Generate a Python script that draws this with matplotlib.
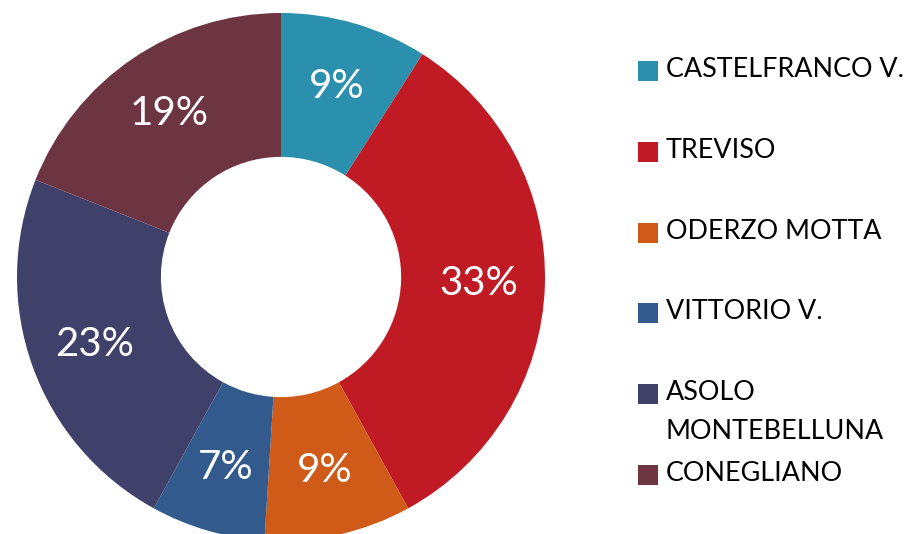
import matplotlib.pyplot as plt
from matplotlib.patches import Rectangle

labels = ["CASTELFRANCO V.", "TREVISO", "ODERZO MOTTA", "VITTORIO V.",
          "ASOLO\nMONTEBELLUNA", "CONEGLIANO"]
values = [9, 33, 9, 7, 23, 19]
colors = ["#2A90AE", "#C01A24", "#D05A17", "#335A8C", "#3F416A", "#6D3441"]

W, H = 908, 534
fig = plt.figure(figsize=(W/100, H/100), dpi=100)

# donut: outer circle x 17..545, y 13..541 (pixels from top)
ax = fig.add_axes([17/W, (H-541)/H, 528/W, 528/H])
wedges, texts, autotexts = ax.pie(values, colors=colors, startangle=90, counterclock=False,
                                  radius=1, wedgeprops=dict(width=0.545, linewidth=0),
                                  autopct="%d%%", pctdistance=0.75,
                                  textprops=dict(color="white", fontsize=29, family="Lato"))
ax.set_xlim(-1, 1)
ax.set_ylim(-1, 1)
ax.set_aspect("equal")
ax.axis("off")

# legend drawn by hand so the square sits on the first text line
y0 = 61
for i, (lab, col) in enumerate(zip(labels, colors)):
    y = y0 + i*80.8
    fig.add_artist(Rectangle((638/W, 1-(y+20)/H), 20/W, 20/H, transform=fig.transFigure,
                             facecolor=col, edgecolor="none"))
    for k, line in enumerate(lab.split("\n")):
        fig.text(666/W, 1-(y+16+k*39)/H, line, fontsize=19.4, family="Lato",
                 color="black", va="baseline", ha="left")

fig.savefig("out.png", dpi=100)
